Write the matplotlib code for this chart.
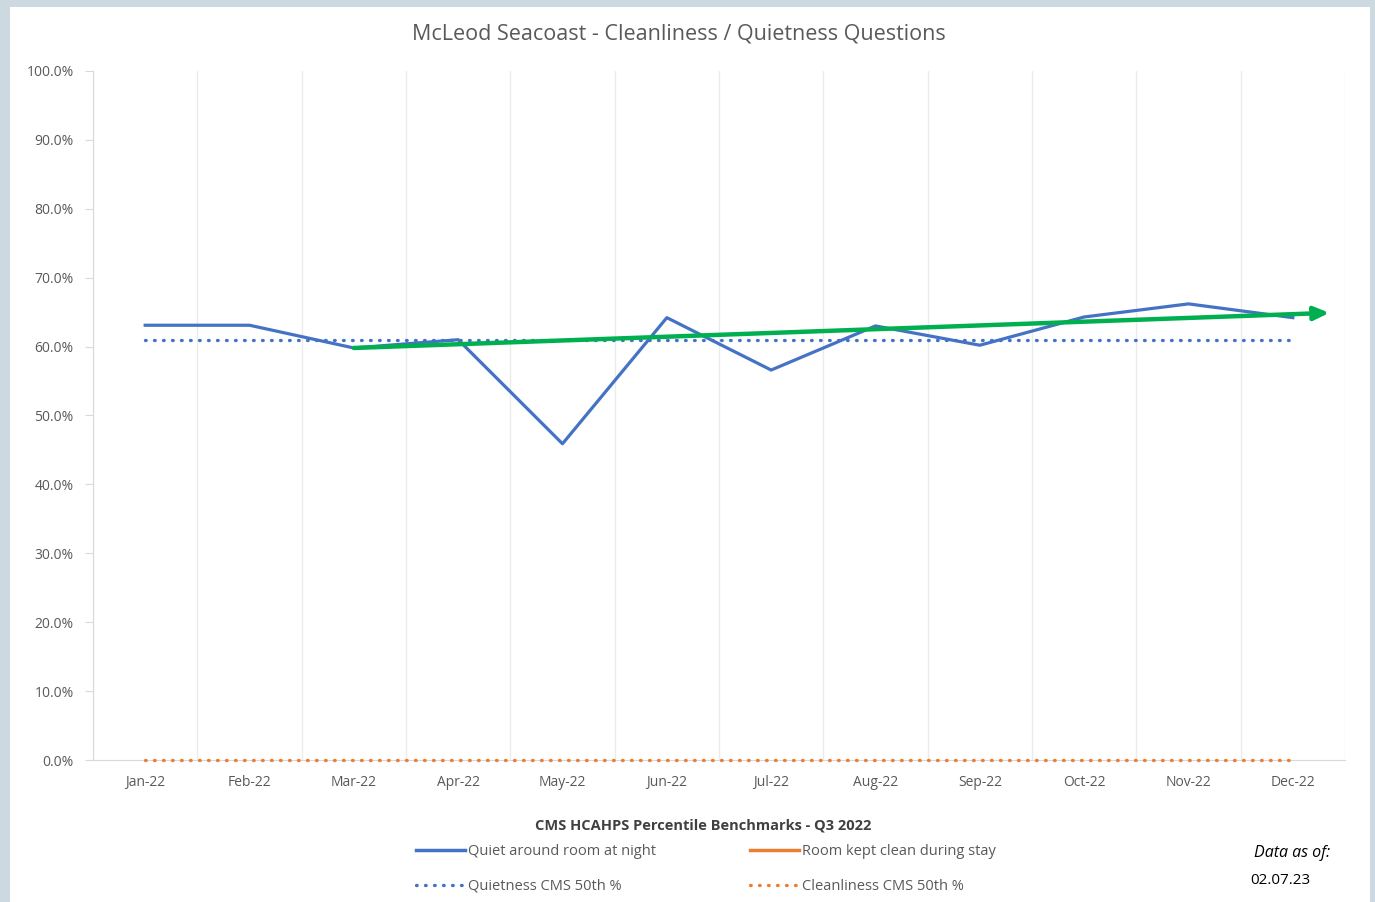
import matplotlib.pyplot as plt
from matplotlib.patches import Rectangle
from matplotlib.lines import Line2D
from matplotlib.ticker import PercentFormatter

months = ['Jan-22', 'Feb-22', 'Mar-22', 'Apr-22', 'May-22', 'Jun-22',
          'Jul-22', 'Aug-22', 'Sep-22', 'Oct-22', 'Nov-22', 'Dec-22']
quiet = [63.1, 63.1, 59.8, 61.0, 45.9, 64.2, 56.6, 63.0, 60.2, 64.3, 66.2, 64.2]
quiet_cms = [61.0] * 12
clean_cms = [0.0] * 12
trend_start = (2, 59.8)
trend_end = (11.35, 64.9)

BLUE = '#4472C4'
ORANGE = '#ED7D31'
GREEN = '#00B050'
GREY = '#595959'
DOTS = (0, (0.2, 2.5))

plt.rcParams['font.family'] = ['Open Sans', 'DejaVu Sans']

fig = plt.figure(figsize=(13.75, 9.02), dpi=100, facecolor='#cdd9e0')
fig.patches.append(Rectangle((10 / 1375, 0), 1360 / 1375, 895 / 902,
                             transform=fig.transFigure, facecolor='white',
                             edgecolor='none', zorder=-5))
ax = fig.add_axes([93 / 1375, 142 / 902, 1252 / 1375, 689 / 902])
ax.set_facecolor('none')

x = range(len(months))
ax.plot(x, quiet, color=BLUE, lw=2.3, zorder=4)
ax.plot(x, quiet_cms, color=BLUE, lw=2.4, ls=DOTS, dash_capstyle='round', zorder=3)
ax.plot(x, clean_cms, color=ORANGE, lw=2.4, ls=DOTS, dash_capstyle='round',
        zorder=3, clip_on=False)

# green trend arrow drawn on top
ax.annotate('', xy=trend_end, xytext=trend_start,
            arrowprops=dict(arrowstyle='-|>,head_length=0.9,head_width=0.4',
                            color=GREEN, lw=3.2, shrinkA=0, shrinkB=0),
            annotation_clip=False, zorder=5)

ax.set_xlim(-0.5, 11.5)
ax.set_ylim(0, 100)
ax.set_yticks(range(0, 101, 10))
ax.yaxis.set_major_formatter(PercentFormatter(decimals=1))
ax.set_xticks(list(x))
ax.set_xticklabels(months)
ax.set_xticks([i + 0.5 for i in range(-1, 12)], minor=True)
ax.grid(axis='x', which='minor', color='#ebebeb', lw=1)
ax.tick_params(axis='x', which='both', length=0, colors=GREY, labelsize=10, pad=11)
ax.tick_params(axis='y', length=6, color='#d9d9d9', colors=GREY, labelsize=10, pad=8)
for s in ['top', 'right']:
    ax.spines[s].set_visible(False)
ax.spines['left'].set_color('#d9d9d9')
ax.spines['bottom'].set_color('#d9d9d9')

fig.text(679 / 1375, 1 - 34 / 902, 'McLeod Seacoast - Cleanliness / Quietness Questions',
         ha='center', va='center', fontsize=15.5, color=GREY)

fig.text(703 / 1375, 1 - 825 / 902, 'CMS HCAHPS Percentile Benchmarks - Q3 2022',
         ha='center', va='center', fontsize=10.5, weight='bold', color='#404040')
handles = [Line2D([], [], color=BLUE, lw=2.5),
           Line2D([], [], color=BLUE, lw=2.4, ls=DOTS, dash_capstyle='round'),
           Line2D([], [], color=ORANGE, lw=2.5),
           Line2D([], [], color=ORANGE, lw=2.4, ls=DOTS, dash_capstyle='round')]
labels = ['Quiet around room at night', 'Quietness CMS 50th %',
          'Room kept clean during stay', 'Cleanliness CMS 50th %']
fig.legend(handles, labels, ncol=2, loc='center', bbox_to_anchor=(706 / 1375, 1 - 869 / 902),
           frameon=False, fontsize=10.5, handlelength=3.4, handletextpad=0.2,
           columnspacing=6.4, labelspacing=1.35, labelcolor=GREY)

fig.text(1292 / 1375, 1 - 853 / 902, 'Data as of:', ha='center', va='center',
         fontsize=11.5, style='italic', color='black')
fig.text(1280 / 1375, 1 - 881 / 902, '02.07.23', ha='center', va='center',
         fontsize=11, color='black')

fig.savefig('out.png', dpi=100, facecolor=fig.get_facecolor())
